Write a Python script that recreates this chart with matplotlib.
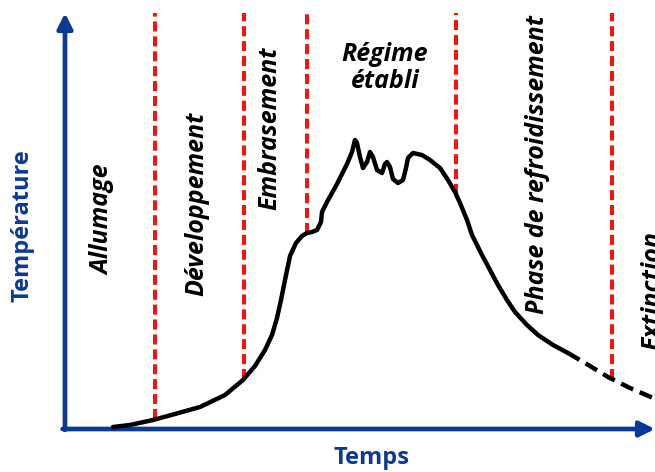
import numpy as np
import matplotlib
matplotlib.use("Agg")
import matplotlib.pyplot as plt

# fire curve: time vs temperature (arbitrary units)
time_solid = [48, 65, 88, 110, 135, 160, 178, 190, 200, 207, 212, 216, 220, 225,
              231, 237, 242, 247, 252, 256, 257, 262, 272, 282, 287, 290, 292,
              295, 298, 302, 305, 308, 312, 317, 320, 322, 325, 328, 333, 338,
              341, 343, 348, 357, 365, 375, 383, 390, 395, 402, 407, 417, 425,
              433, 442, 450, 462, 473, 488, 503]
temp_solid = [2, 4, 9, 15, 22, 34, 49, 63, 79, 94, 111, 129, 149, 173,
              186, 193, 196, 197, 199, 207, 217, 227, 245, 265, 277, 289, 286,
              272, 261, 267, 277, 272, 259, 256, 265, 267, 262, 250, 246, 249,
              261, 271, 276, 274, 269, 261, 249, 237, 226, 209, 194, 174, 159,
              144, 129, 117, 104, 94, 84, 76]
time_dashed = [503, 525, 543, 565, 595]
temp_dashed = [76, 63, 52, 41, 28]

# phase boundaries (time)
boundaries = [90, 179, 242, 391, 547]
top_temp = 416

phase_labels = ["Allumage", "Développement", "Embrasement", "Régime\nétabli",
                "Phase de refroidissement", "Extinction"]

blue = "#0b3a96"
red = "#ff1010"
font = "Open Sans"

fig = plt.figure(figsize=(6.55, 4.72), dpi=100)
ax = fig.add_axes([65 / 655, 43 / 472, 590 / 655, 416 / 472])
ax.set_xlim(0, 590)
ax.set_ylim(0, 416)
ax.axis("off")

# axes arrows
ax.annotate("", xy=(0, 1.0), xytext=(0, -0.002), xycoords="axes fraction",
            arrowprops=dict(arrowstyle="-|>,head_length=0.9,head_width=0.45",
                            color=blue, lw=3.4, shrinkA=0, shrinkB=0),
            annotation_clip=False)
ax.annotate("", xy=(1.0, 0), xytext=(-0.004, 0), xycoords="axes fraction",
            arrowprops=dict(arrowstyle="-|>,head_length=0.9,head_width=0.45",
                            color=blue, lw=3.4, shrinkA=0, shrinkB=0),
            annotation_clip=False)

# curve
ax.plot(time_solid, temp_solid, color="black", lw=3.2, solid_joinstyle="round",
        solid_capstyle="round", clip_on=False, zorder=3)
ax.plot(time_dashed, temp_dashed, color="black", lw=3.2, linestyle=(0, (3, 1.6)),
        clip_on=False, zorder=3)

# phase boundaries, from top down to the curve
all_t = time_solid + time_dashed[1:]
all_T = temp_solid + temp_dashed[1:]
for b in boundaries:
    bottom = np.interp(b, all_t, all_T)
    ax.plot([b, b], [bottom, top_temp], color=red, lw=2.9,
            linestyle=(0, (2.5, 1.2)), zorder=2, clip_on=False)

lab_kw = dict(fontsize=18, fontweight="bold", fontstyle="italic",
              family=font, color="black", clip_on=False)
ax.text(38, 209, phase_labels[0], rotation=90, ha="center", va="center", **lab_kw)
ax.text(132, 225, phase_labels[1], rotation=90, ha="center", va="center", **lab_kw)
ax.text(205, 301, phase_labels[2], rotation=90, ha="center", va="center", **lab_kw)
ax.text(320, 361, phase_labels[3], ha="center", va="center", linespacing=1.15, **lab_kw)
ax.text(472, 265, phase_labels[4], rotation=90, ha="center", va="center", **lab_kw)
ax.text(588, 79, phase_labels[5], rotation=90, ha="center", va="bottom", **lab_kw)

fig.text(23 / 655, 1 - 226 / 472, "Température", rotation=90, ha="center",
         va="center", fontsize=17, fontweight="bold", family=font, color=blue)
fig.text(372 / 655, 1 - 458 / 472, "Temps", ha="center", va="center",
         fontsize=17, fontweight="bold", family=font, color=blue)

fig.savefig("out.png", dpi=100)
